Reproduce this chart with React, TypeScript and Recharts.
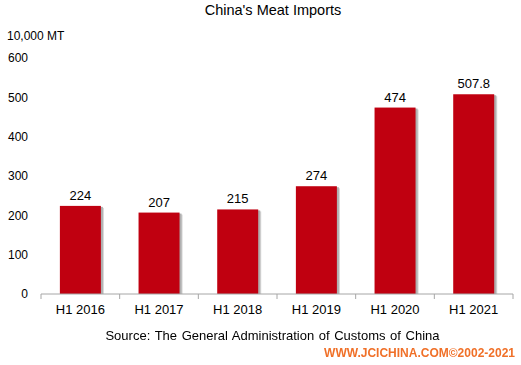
import React from "react";
import { BarChart, Bar, XAxis, YAxis, LabelList } from "recharts";

const categories = ["H1 2016", "H1 2017", "H1 2018", "H1 2019", "H1 2020", "H1 2021"];
const imports = [224, 207, 215, 274, 474, 507.8];
const yTicks = [0, 100, 200, 300, 400, 500, 600];

const data = categories.map((c, i) => ({ name: c, value: imports[i] }));

const W = 521;
const H = 365;
const M = { top: 58, right: 8, bottom: 41, left: 8 };
const YW = 33;
const plotW = W - M.left - M.right - YW;
const halfBand = plotW / categories.length / 2;

const font = "Arial, 'Liberation Sans', sans-serif";

const XTick = (props: any) => {
  const { x, y, payload, index } = props;
  const last = index === categories.length - 1;
  return (
    <g>
      <line x1={x - halfBand} x2={x - halfBand} y1={y - 8} y2={y - 3} stroke="#a6a6a6" />
      {last && <line x1={x + halfBand} x2={x + halfBand} y1={y - 8} y2={y - 3} stroke="#a6a6a6" />}
      <text x={x} y={y + 12} textAnchor="middle" fontSize={13} fill="#000" fontFamily={font}>
        {payload.value}
      </text>
    </g>
  );
};

const ShadowBar = (props: any) => {
  const { x, y, width, height, fill } = props;
  return (
    <g>
      <rect x={x + 3} y={y + 2} width={width} height={Math.max(0, height - 2)} fill="#d6d6d6" />
      <rect x={x + 2} y={y + 1} width={width} height={Math.max(0, height - 1)} fill="#b0b0b0" />
      <rect x={x} y={y} width={width} height={height} fill={fill} />
    </g>
  );
};

export default function App() {
  return (
    <div style={{ position: "fixed", left: 0, top: 0, width: W, height: H, background: "#fff", fontFamily: font }}>
      <div style={{ position: "absolute", left: 0, top: 2, width: 546, textAlign: "center", fontSize: 14.5, color: "#000" }}>
        China's Meat Imports
      </div>
      <div style={{ position: "absolute", left: 7, top: 29, fontSize: 12, color: "#000" }}>10,000 MT</div>
      <BarChart width={W} height={H} data={data} margin={M} barCategoryGap="24%">
        <YAxis
          width={YW}
          domain={[0, 600]}
          ticks={yTicks}
          axisLine={false}
          tickLine={false}
          tickMargin={7}
          tick={{ fontSize: 12, fill: "#000", fontFamily: font }}
          interval={0}
        />
        <XAxis
          dataKey="name"
          axisLine={{ stroke: "#a6a6a6" }}
          tickLine={false}
          tick={<XTick />}
          interval={0}
        />
        <Bar dataKey="value" fill="#C00010" isAnimationActive={false} shape={<ShadowBar />}>
          <LabelList dataKey="value" position="top" offset={6} fontSize={13} fill="#000" fontFamily={font} />
        </Bar>
      </BarChart>
      <div style={{ position: "absolute", left: 0, top: 328, width: 545, textAlign: "center", fontSize: 13, color: "#000", wordSpacing: 1 }}>
        Source: The General Administration of Customs of China
      </div>
      <div style={{ position: "absolute", right: 6, top: 346, fontSize: 12, fontWeight: "bold", color: "#F07028" }}>
        WWW.JCICHINA.COM©2002-2021
      </div>
    </div>
  );
}
